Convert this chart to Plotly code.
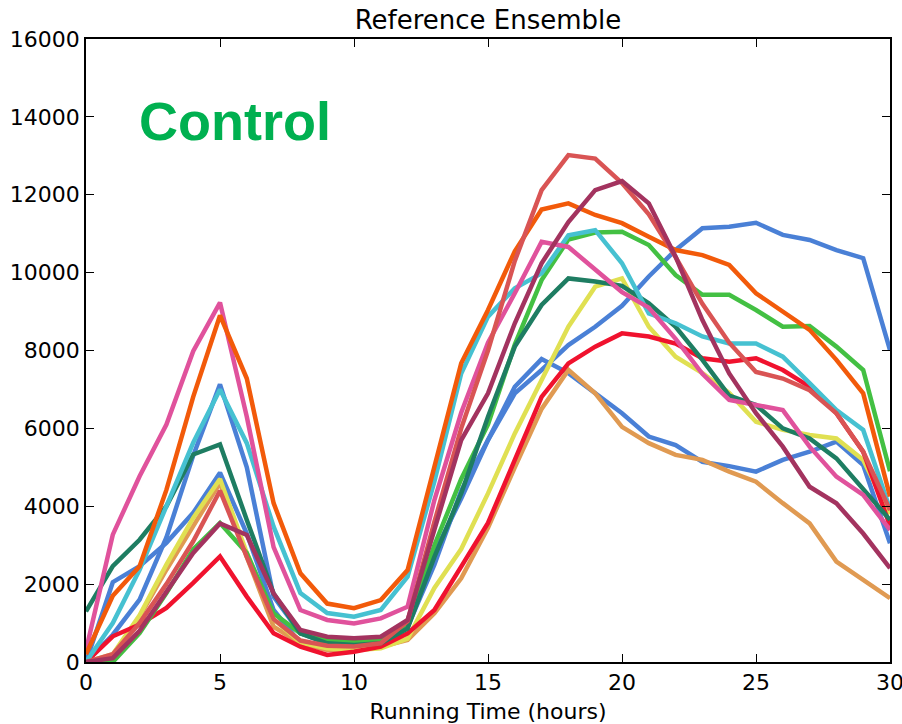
import plotly.graph_objects as go

hours = list(range(31))

blue_a = [0, 700, 1600, 3200, 5300, 7130, 5000, 1680, 740, 480, 390, 425, 900, 2800, 4200, 5700, 6900, 7500, 8140, 8610, 9150, 9900, 10580, 11140, 11180, 11280, 10970, 10840, 10580, 10370, 8010]
blue_b = [0, 2050, 2460, 3060, 3830, 4860, 3300, 1335, 480, 394, 394, 440, 907, 2500, 4400, 5700, 7070, 7780, 7420, 6900, 6390, 5790, 5570, 5140, 5030, 4890, 5190, 5400, 5660, 5060, 3050]
orange = [200, 1700, 2460, 4420, 6810, 8900, 7280, 4080, 2280, 1500, 1380, 1590, 2360, 5000, 7670, 9040, 10550, 11620, 11780, 11480, 11270, 10920, 10580, 10450, 10200, 9470, 9000, 8530, 7760, 6900, 4250]
pink = [300, 3270, 4770, 6100, 7980, 9230, 6300, 2950, 1335, 1080, 990, 1120, 1420, 4160, 6400, 8200, 9470, 10790, 10660, 10070, 9500, 9100, 8300, 7400, 6730, 6600, 6470, 5530, 4760, 4290, 3390]
cyan = [0, 1000, 2370, 4000, 5630, 7000, 5620, 3475, 1770, 1258, 1164, 1335, 2190, 4640, 7410, 8870, 9600, 9980, 10960, 11090, 10240, 8950, 8700, 8360, 8180, 8180, 7840, 7160, 6470, 5960, 3930]
dkgreen = [1300, 2460, 3140, 4000, 5330, 5590, 3650, 1760, 736, 479, 436, 479, 864, 2700, 4330, 6300, 8100, 9170, 9850, 9770, 9660, 9210, 8610, 7760, 6840, 6600, 6000, 5740, 5230, 4420, 3650]
green = [0, 0, 745, 1770, 2890, 3570, 2800, 1250, 736, 565, 522, 565, 907, 3000, 4700, 6100, 8150, 9810, 10850, 11030, 11050, 10710, 9940, 9430, 9430, 9040, 8610, 8630, 8100, 7500, 4900]
red = [0, 660, 960, 1390, 2030, 2710, 1680, 736, 394, 180, 265, 394, 736, 1335, 2450, 3570, 5190, 6810, 7670, 8100, 8440, 8360, 8180, 7800, 7710, 7800, 7500, 7070, 6390, 5400, 3500]
yellow = [0, 200, 1200, 2500, 3700, 4700, 2800, 1100, 500, 350, 300, 350, 600, 1900, 2900, 4330, 5870, 7240, 8610, 9640, 9850, 8610, 7840, 7420, 6910, 6170, 5960, 5830, 5740, 5190, 3800]
tan = [0, 145, 1170, 2370, 3490, 4600, 2700, 907, 479, 308, 308, 394, 565, 1250, 2150, 3450, 5000, 6500, 7500, 6900, 6040, 5620, 5320, 5190, 4890, 4630, 4080, 3560, 2580, 2110, 1640]
coral = [0, 200, 1000, 2000, 3100, 4400, 2700, 1100, 550, 420, 400, 480, 1050, 3600, 6000, 8000, 10300, 12120, 13020, 12930, 12300, 11500, 10400, 9200, 8200, 7450, 7280, 6980, 6390, 5400, 3900]
maroon = [0, 100, 800, 1800, 2800, 3560, 3260, 1760, 822, 650, 608, 650, 1078, 3400, 5700, 6900, 8700, 10240, 11300, 12120, 12350, 11780, 10410, 8780, 7410, 6390, 5530, 4500, 4075, 3300, 2410]

x_ticks = [0, 5, 10, 15, 20, 25, 30]
y_ticks = list(range(0, 16001, 2000))

series = [
    ("blue_a", blue_a, "#4a80d6"),
    ("blue_b", blue_b, "#4a80d6"),
    ("tan", tan, "#e09a52"),
    ("yellow", yellow, "#e0e052"),
    ("red", red, "#f0122e"),
    ("green", green, "#43c043"),
    ("dkgreen", dkgreen, "#1e7d62"),
    ("cyan", cyan, "#46c1d1"),
    ("pink", pink, "#e0529c"),
    ("orange", orange, "#f25a0a"),
    ("coral", coral, "#d95454"),
    ("maroon", maroon, "#a3335f"),
]

fig = go.Figure()
for name, vals, col in series:
    fig.add_trace(go.Scatter(x=hours, y=vals, mode="lines", name=name,
                             line=dict(color=col, width=4.5), showlegend=False))

axis_common = dict(showline=True, linecolor="black", linewidth=1.5, mirror="ticks",
                   ticks="inside", ticklen=8, tickwidth=1, tickcolor="black",
                   showgrid=False, zeroline=False, automargin=False,
                   ticklabeloverflow="allow",
                   tickfont=dict(family="DejaVu Sans", size=22, color="black"))

fig.update_xaxes(range=[0, 30], tickvals=x_ticks, ticktext=[str(v) for v in x_ticks],
                 title=dict(text="Running Time (hours)", font=dict(family="DejaVu Sans", size=22, color="black"), standoff=9),
                 **axis_common)
fig.update_yaxes(range=[0, 16000], tickvals=y_ticks, ticktext=[str(v) for v in y_ticks],
                 **axis_common)

fig.add_annotation(x=1.9, y=13900, xref="x", yref="y", text="<b>Control</b>",
                   showarrow=False, xanchor="left", yanchor="middle",
                   font=dict(family="Liberation Sans", size=54, color="#00b050"))

fig.update_layout(
    width=902, height=724,
    margin=dict(l=86, r=12, t=39, b=62),
    plot_bgcolor="white", paper_bgcolor="white",
    title=dict(text="Reference Ensemble", x=0.5, xref="paper", xanchor="center",
               y=0.973, yanchor="middle",
               font=dict(family="DejaVu Sans", size=26, color="black")),
)

fig.write_html("out.html")
